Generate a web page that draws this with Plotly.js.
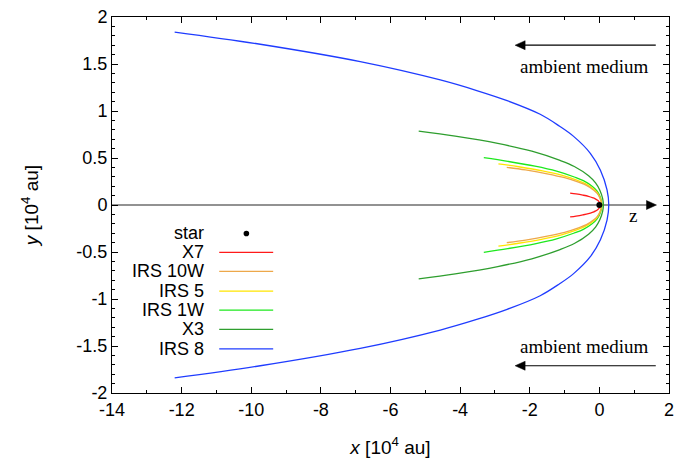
<!DOCTYPE html>
<html>
<head>
<meta charset="utf-8">
<script src="https://cdn.plot.ly/plotly-3.0.1.min.js"></script>
<style>html,body{margin:0;padding:0;background:#fff;}#chart{width:678px;height:459px;}</style>
</head>
<body>
<div id="chart"></div>
<script>
// ---- data (units of 10^4 au) ----
const starX = [0];
const starY = [0];

const names = ['X7', 'IRS 10W', 'IRS 5', 'IRS 1W', 'X3', 'IRS 8'];
const colors = ['#ff1a1a', '#eda84a', '#ffe500', '#1ee81e', '#2e9e2e', '#1f3cff'];

const x_X7 = [-0.84,-0.67,-0.474,-0.315,-0.183,-0.117,-0.051,-0.018,0.002,0.015,0.019,0.015,0.002,-0.018,-0.051,-0.117,-0.183,-0.315,-0.474,-0.67,-0.84];
const y_X7 = [0.127,0.118,0.105,0.092,0.076,0.066,0.05,0.038,0.026,0.011,0,-0.011,-0.026,-0.038,-0.05,-0.066,-0.076,-0.092,-0.105,-0.118,-0.127];

const x_IRS10W = [-2.66,-2.12,-1.50,-1.00,-0.578,-0.371,-0.161,-0.057,0.007,0.048,0.059,0.048,0.007,-0.057,-0.161,-0.371,-0.578,-1.00,-1.50,-2.12,-2.66];
const y_IRS10W = [0.401,0.373,0.332,0.29,0.24,0.209,0.158,0.12,0.081,0.035,0,-0.035,-0.081,-0.12,-0.158,-0.209,-0.24,-0.29,-0.332,-0.373,-0.401];

const x_IRS5 = [-2.90,-2.32,-1.635,-1.088,-0.63,-0.405,-0.176,-0.062,0.007,0.052,0.064,0.052,0.007,-0.062,-0.176,-0.405,-0.63,-1.088,-1.635,-2.32,-2.90];
const y_IRS5 = [0.438,0.407,0.363,0.317,0.262,0.228,0.173,0.131,0.088,0.038,0,-0.038,-0.088,-0.131,-0.173,-0.228,-0.262,-0.317,-0.363,-0.407,-0.438];

const x_IRS1W = [-3.32,-2.63,-1.85,-1.23,-0.72,-0.46,-0.20,-0.07,0.008,0.059,0.073,0.059,0.008,-0.07,-0.20,-0.46,-0.72,-1.23,-1.85,-2.63,-3.32];
const y_IRS1W = [0.503,0.464,0.413,0.36,0.298,0.259,0.197,0.15,0.10,0.043,0,-0.043,-0.10,-0.15,-0.197,-0.259,-0.298,-0.36,-0.413,-0.464,-0.503];

const x_X3 = [-5.19,-4.14,-2.92,-1.94,-1.13,-0.72,-0.31,-0.11,0.013,0.094,0.115,0.094,0.013,-0.11,-0.31,-0.72,-1.13,-1.94,-2.92,-4.14,-5.19];
const y_X3 = [0.785,0.732,0.655,0.572,0.474,0.41,0.311,0.235,0.157,0.068,0,-0.068,-0.157,-0.235,-0.311,-0.41,-0.474,-0.572,-0.655,-0.732,-0.785];

const x_IRS8 = [-12.2,-9.74,-6.87,-4.57,-3.5,-2.65,-1.70,-1.15,-0.74,-0.26,0.03,0.22,0.27,0.22,0.03,-0.26,-0.74,-1.15,-1.70,-2.65,-3.5,-4.57,-6.87,-9.74,-12.2];
const y_IRS8 = [1.84,1.71,1.525,1.33,1.215,1.11,0.965,0.84,0.73,0.55,0.37,0.16,0,-0.16,-0.37,-0.55,-0.73,-0.84,-0.965,-1.11,-1.215,-1.33,-1.525,-1.71,-1.84];

const xs = [x_X7, x_IRS10W, x_IRS5, x_IRS1W, x_X3, x_IRS8];
const ys = [y_X7, y_IRS10W, y_IRS5, y_IRS1W, y_X3, y_IRS8];

const xTickVals = [-14,-12,-10,-8,-6,-4,-2,0,2];
const xTickText = ['-14','-12','-10','-8','-6','-4','-2','0','2'];
const yTickVals = [-2,-1.5,-1,-0.5,0,0.5,1,1.5,2];
const yTickText = ['-2','-1.5','-1','-0.5','0','0.5','1','1.5','2'];

// ---- traces ----
const traces = [];
for (let i = names.length - 1; i >= 0; i--) {
  traces.push({
    x: xs[i], y: ys[i], name: names[i], type: 'scatter', mode: 'lines',
    line: {color: colors[i], width: 1.3, shape: 'spline', smoothing: 1},
    hoverinfo: 'skip'
  });
}
traces.push({x: starX, y: starY, name: 'star', type: 'scatter', mode: 'markers',
  marker: {color: '#000', size: 6}, hoverinfo: 'skip'});

// ---- custom gnuplot-style key (text left of sample) ----
const keyTextX = -11.3, keyL0 = -10.92, keyL1 = -9.37, keyDotX = -10.14;
const keyRows = [-0.303, -0.505, -0.707, -0.917, -1.119, -1.324, -1.53];
const sansFont = {family: 'Liberation Sans, Arial, sans-serif', size: 18, color: '#000'};
const titleFont = {family: 'Liberation Sans, Arial, sans-serif', size: 19, color: '#000'};
const keyFont = {family: 'Liberation Sans, Arial, sans-serif', size: 18, color: '#000'};
const serifFont = {family: 'Liberation Serif, Times New Roman, serif', size: 19, color: '#000'};

const annotations = [];
const shapes = [];
const keyNames = ['star'].concat(names);
keyNames.forEach((n, k) => {
  annotations.push({x: keyTextX, y: keyRows[k], xref: 'x', yref: 'y', text: n,
    showarrow: false, xanchor: 'right', yanchor: 'middle', font: keyFont});
  if (k === 0) {
    shapes.push({type: 'circle', xref: 'x', yref: 'y', xsizemode: 'pixel', ysizemode: 'pixel',
      xanchor: keyDotX, yanchor: keyRows[k], x0: -2.8, x1: 2.8, y0: -2.8, y1: 2.8,
      fillcolor: '#000', line: {color: '#000', width: 0}});
  } else {
    shapes.push({type: 'line', xref: 'x', yref: 'y', x0: keyL0, x1: keyL1, y0: keyRows[k], y1: keyRows[k],
      line: {color: colors[k - 1], width: 1.3}});
  }
});

// symmetry axis (gray) with arrowhead
shapes.push({type: 'line', xref: 'x', yref: 'y', x0: -14, x1: 1.45, y0: 0, y1: 0,
  line: {color: '#6e6e6e', width: 1.6}, layer: 'below'});
shapes.push({type: 'path', xref: 'x', yref: 'y', xsizemode: 'pixel', ysizemode: 'pixel',
  xanchor: 1.64, yanchor: 0, path: 'M 0,0 L -10,-4.5 L -10,4.5 Z',
  fillcolor: '#000', line: {color: '#000', width: 0.5}});
annotations.push({x: 0.98, y: -0.11, xref: 'x', yref: 'y', text: 'z', showarrow: false,
  xanchor: 'center', yanchor: 'middle', font: {family: 'Liberation Serif, serif', size: 19, color: '#000'}});

// ambient medium arrows
[[1.70, 1.475], [-1.71, -1.51]].forEach(([ya, yt]) => {
  shapes.push({type: 'line', xref: 'x', yref: 'y', x0: -2.25, x1: 1.62, y0: ya, y1: ya,
    line: {color: '#000', width: 1.2}});
  shapes.push({type: 'path', xref: 'x', yref: 'y', xsizemode: 'pixel', ysizemode: 'pixel',
    xanchor: -2.42, yanchor: ya, path: 'M 0,0 L 10,-4.5 L 10,4.5 Z',
    fillcolor: '#000', line: {color: '#000', width: 0.5}});
  annotations.push({x: -0.45, y: yt, xref: 'x', yref: 'y', text: 'ambient medium', showarrow: false,
    xanchor: 'center', yanchor: 'middle', font: serifFont});
});

const axisCommon = {
  showgrid: false, zeroline: false, showline: true, linecolor: '#000', linewidth: 1,
  mirror: 'allticks', ticks: 'inside', ticklen: 6, tickcolor: '#000', tickwidth: 1,
  tickmode: 'array', tickfont: sansFont
};

const layout = {
  width: 678, height: 459,
  margin: {l: 112, r: 9, t: 17, b: 66},
  paper_bgcolor: '#fff', plot_bgcolor: '#fff',
  showlegend: false,
  xaxis: Object.assign({}, axisCommon, {
    range: [-14, 2], tickvals: xTickVals, ticktext: xTickText,
    minor: {ticks: 'inside', dtick: 1, ticklen: 3, tickcolor: '#000', showgrid: false},
    title: {text: '<i>x</i> [10<sup>4</sup> au]', font: titleFont, standoff: 22}
  }),
  yaxis: Object.assign({}, axisCommon, {
    range: [-2, 2], tickvals: yTickVals, ticktext: yTickText,
    minor: {ticks: 'inside', dtick: 0.1, ticklen: 3, tickcolor: '#000', showgrid: false},
    title: {text: '<i>y</i> [10<sup>4</sup> au]', font: titleFont, standoff: 32}
  }),
  shapes: shapes,
  annotations: annotations
};

Plotly.newPlot('chart', traces, layout, {staticPlot: true, displayModeBar: false});
</script>
</body>
</html>
